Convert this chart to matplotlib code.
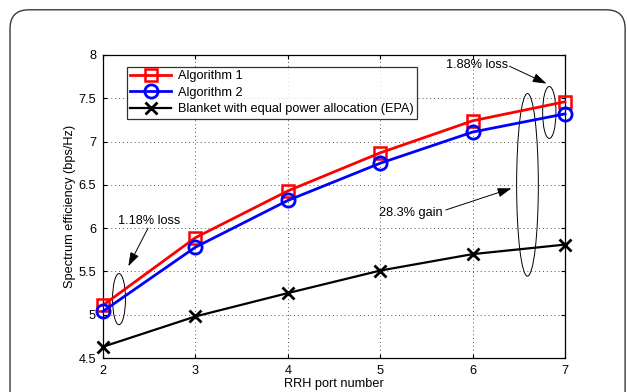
import matplotlib
matplotlib.use('Agg')
import matplotlib.pyplot as plt
from matplotlib.patches import Ellipse, FancyBboxPatch

plt.rcParams['font.family'] = ['Liberation Sans', 'DejaVu Sans']

# ── Data ──────────────────────────────────────────────────────────────────────
ports = [2, 3, 4, 5, 6, 7]
alg1 = [5.11, 5.89, 6.43, 6.87, 7.24, 7.46]
alg2 = [5.04, 5.78, 6.32, 6.75, 7.11, 7.32]
epa = [4.63, 4.98, 5.25, 5.51, 5.70, 5.81]

labels = ['Algorithm 1', 'Algorithm 2', 'Blanket with equal power allocation (EPA)']
xticks = [2, 3, 4, 5, 6, 7]
yticks = [4.5, 5, 5.5, 6, 6.5, 7, 7.5, 8]

FS = 9.2

fig = plt.figure(figsize=(6.27, 3.92), dpi=100)
fig.patch.set_facecolor('white')

# rounded frame around the figure (bottom runs off the image)
frame = FancyBboxPatch((0.016, -0.1), 0.981, 1.075, boxstyle='round,pad=0,rounding_size=0.03',
                       transform=fig.transFigure, fill=False, edgecolor='#3a3a3a', lw=1.0,
                       mutation_aspect=627 / 392)
fig.patches.append(frame)

ax = fig.add_axes([0.1643, 0.0867, 0.7368, 0.7730])

ax.plot(ports, alg1, color='red', lw=2.0, marker='s', ms=8, mfc='none', mew=1.8,
        label=labels[0], clip_on=False, zorder=4)
ax.plot(ports, alg2, color='blue', lw=2.0, marker='o', ms=9.5, mfc='none', mew=2.0,
        label=labels[1], clip_on=False, zorder=4)
ax.plot(ports, epa, color='black', lw=1.6, marker='x', ms=8, mew=2.0,
        label=labels[2], clip_on=False, zorder=4)

ax.set_xlim(2, 7)
ax.set_ylim(4.5, 8)
ax.set_xticks(xticks)
ax.set_yticks(yticks)
ax.set_yticklabels(['4.5', '5', '5.5', '6', '6.5', '7', '7.5', '8'])
ax.tick_params(direction='in', top=True, right=True, labelsize=FS, length=3, width=0.8, pad=5)
ax.grid(True, color='#555555', linestyle=(0, (1, 3)), lw=0.7)
for s in ax.spines.values():
    s.set_linewidth(0.9)

ax.set_xlabel('RRH port number', fontsize=FS, labelpad=1)
ax.set_ylabel('Spectrum efficiency (bps/Hz)', fontsize=FS, labelpad=2)

leg = ax.legend(loc='upper left', bbox_to_anchor=(0.051, 0.962), fontsize=FS, frameon=True,
                fancybox=False, edgecolor='black', handlelength=3.2, borderpad=0.3,
                labelspacing=0.35, handletextpad=0.5, borderaxespad=0)
leg.get_frame().set_linewidth(0.9)

# ellipses marking the gaps
ax.add_patch(Ellipse((2.173, 5.18), 0.14, 0.59, fill=False, ec='black', lw=0.7, zorder=3))
ax.add_patch(Ellipse((6.594, 6.50), 0.235, 2.11, fill=False, ec='black', lw=0.7, zorder=3))
ax.add_patch(Ellipse((6.83, 7.336), 0.144, 0.60, fill=False, ec='black', lw=0.7, zorder=3))

arrow = dict(arrowstyle='-|>,head_length=0.6,head_width=0.2', color='black', lw=0.7,
             mutation_scale=14, shrinkA=0, shrinkB=0)

ax.text(2.50, 6.08, '1.18% loss', fontsize=FS, ha='center', va='center')
ax.annotate('', xy=(2.274, 5.56), xytext=(2.487, 6.0), arrowprops=arrow)

ax.text(6.05, 7.88, '1.88% loss', fontsize=FS, ha='center', va='center')
ax.annotate('', xy=(6.80, 7.67), xytext=(6.40, 7.87), arrowprops=arrow)

ax.text(5.33, 6.18, '28.3% gain', fontsize=FS, ha='center', va='center')
ax.annotate('', xy=(6.42, 6.46), xytext=(5.71, 6.21), arrowprops=arrow)

fig.savefig('out.png', dpi=100)
